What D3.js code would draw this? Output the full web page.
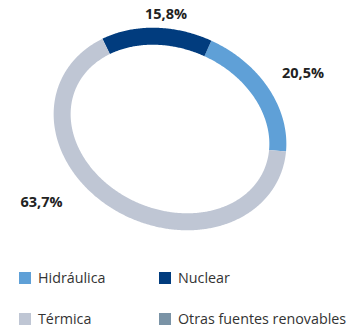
<!DOCTYPE html>
<html>
<head>
<meta charset="utf-8">
<script src="https://cdn.jsdelivr.net/npm/d3@7/dist/d3.min.js"></script>
<style>
  html, body { margin: 0; padding: 0; background: #fff; }
  svg { display: block; }
  text { font-family: "Open Sans", "DejaVu Sans", sans-serif; }
</style>
</head>
<body>
<script>
// Generation mix shares (%)
const categories = ["Hidráulica", "Nuclear", "Térmica", "Otras fuentes renovables"];
const values = [20.5, 15.8, 63.7, 0];
const valueLabels = ["20,5%", "15,8%", "63,7%", ""];
const colors = ["#5fa0d7", "#013c7e", "#bfc6d4", "#7a93a6"];

const width = 353, height = 328;
const svg = d3.select("body").append("svg")
  .attr("width", width).attr("height", height);

// Tilted elliptical ring geometry
const cx = 170, cy = 129;
const rx = 111, ry = 89;
const tilt = 23.3 * Math.PI / 180;
const ringWidth = 17;
const tStart = -14.7 * Math.PI / 180;

const pie = d3.pie().sort(null).value(d => d).startAngle(0).endAngle(2 * Math.PI);
const arcs = pie(values);

function ellipsePoint(t) {
  const x0 = rx * Math.cos(t), y0 = ry * Math.sin(t);
  return [cx + x0 * Math.cos(tilt) - y0 * Math.sin(tilt),
          cy + x0 * Math.sin(tilt) + y0 * Math.cos(tilt)];
}

const line = d3.line().curve(d3.curveLinear);
function segmentPath(a) {
  const t0 = tStart - a.startAngle, t1 = tStart - a.endAngle;
  const n = Math.max(2, Math.ceil(Math.abs(t1 - t0) / 0.01));
  const pts = d3.range(n + 1).map(i => ellipsePoint(t0 + (t1 - t0) * i / n));
  return line(pts);
}

svg.append("g").selectAll("path")
  .data(arcs.filter(a => a.value > 0))
  .join("path")
  .attr("d", segmentPath)
  .attr("fill", "none")
  .attr("stroke", (d) => colors[d.index])
  .attr("stroke-width", ringWidth)
  .attr("stroke-linecap", "butt");

// Percentage labels
const labelPos = [[303, 78], [166, 19], [41.5, 207]];
svg.append("g").selectAll("text")
  .data(arcs.filter(a => a.value > 0))
  .join("text")
  .attr("x", d => labelPos[d.index][0])
  .attr("y", d => labelPos[d.index][1])
  .attr("text-anchor", "middle")
  .attr("font-size", 14.5)
  .attr("font-weight", 700)
  .attr("fill", "#222")
  .text(d => valueLabels[d.index]);

// Legend
const legendX = [19, 159], legendY = [283, 324];
const legend = svg.append("g").selectAll("g")
  .data(categories)
  .join("g")
  .attr("transform", (d, i) => `translate(${legendX[i % 2]},${legendY[Math.floor(i / 2)]})`);
legend.append("rect")
  .attr("x", 0).attr("y", -11)
  .attr("width", 12).attr("height", 12)
  .attr("fill", (d, i) => colors[i]);
legend.append("text")
  .attr("x", 19).attr("y", 0)
  .attr("font-size", 14.3)
  .attr("fill", "#333")
  .text(d => d);
</script>
</body>
</html>
